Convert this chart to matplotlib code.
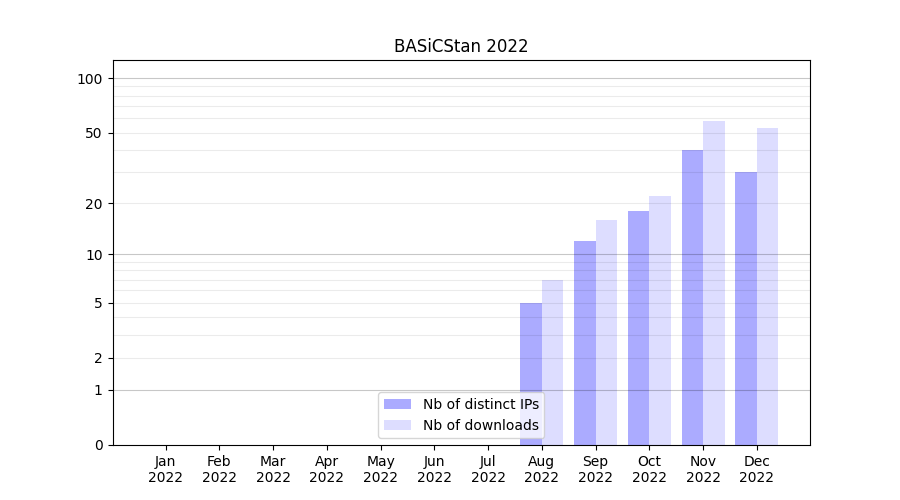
import numpy as np
import matplotlib
matplotlib.use("Agg")
import matplotlib.pyplot as plt

months = ["Jan", "Feb", "Mar", "Apr", "May", "Jun", "Jul", "Aug", "Sep", "Oct", "Nov", "Dec"]
year = "2022"
distinct_ips = [0, 0, 0, 0, 0, 0, 0, 5, 12, 18, 40, 30]
downloads = [0, 0, 0, 0, 0, 0, 0, 7, 16, 22, 58, 53]
yticks = [0, 1, 2, 5, 10, 20, 50, 100]
major_grid = [1, 10, 100]
minor_grid = [2, 3, 4, 5, 6, 7, 8, 9, 20, 30, 40, 50, 60, 70, 80, 90]


def fwd(x):
    return np.log10(np.maximum(x, -0.999) + 1)


def inv(y):
    return 10 ** y - 1


fig, ax = plt.subplots(figsize=(9, 5), dpi=100)
x = np.arange(len(months))
w = 0.4
ax.bar(x - w / 2, distinct_ips, w, color="blue", alpha=0.33, label="Nb of distinct IPs")
ax.bar(x + w / 2, downloads, w, color="blue", alpha=0.135, label="Nb of downloads")

ax.set_yscale("function", functions=(fwd, inv))
ax.set_ylim(0, 126)
ax.set_yticks(yticks)
ax.set_yticklabels([str(v) for v in yticks])
ax.yaxis.set_minor_locator(plt.NullLocator())
ax.grid(False)
# light grid for intermediate values, darker one for powers of ten
for v in minor_grid:
    ax.axhline(v, color="black", alpha=0.08, linewidth=0.8, zorder=1.5)
for v in major_grid:
    ax.axhline(v, color="black", alpha=0.22, linewidth=0.8, zorder=1.5)

ax.set_xticks(x)
ax.set_xticklabels([m + "\n" + year for m in months])
ax.set_title("BASiCStan 2022")
ax.legend(loc="lower center")

fig.savefig("out.png")
